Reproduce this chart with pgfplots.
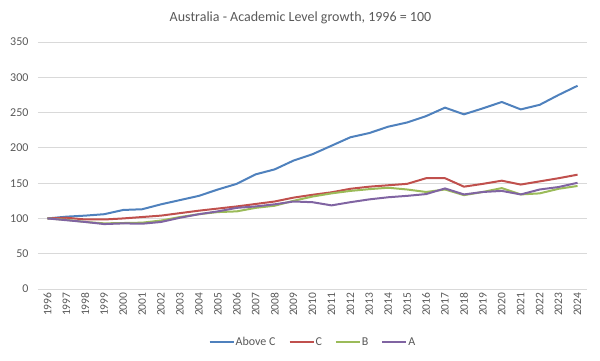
\documentclass[border=0pt]{standalone}
\usepackage{pgfplots}
\pgfplotsset{compat=1.18}
\usepackage{fontspec}
\setmainfont{Carlito}
\definecolor{cblue}{HTML}{4F81BD}
\definecolor{cred}{HTML}{C0504D}
\definecolor{cgreen}{HTML}{9BBB59}
\definecolor{cpurple}{HTML}{8064A2}
\definecolor{tickgray}{HTML}{595959}
\definecolor{gridgray}{HTML}{D9D9D9}
\begin{document}
\begin{tikzpicture}
\useasboundingbox (-38pt,-71pt) rectangle (562pt,289pt);
\begin{axis}[
  at={(0,0)}, anchor=south west,
  scale only axis, width=549pt, height=247pt,
  xmin=1995.5, xmax=2024.5, ymin=0, ymax=350,
  xtick={1996,...,2024}, ytick={0,50,...,350},
  /pgf/number format/1000 sep={},
  /pgf/number format/assume math mode=true,
  axis line style={draw=none},
  major tick length=0pt,
  ymajorgrids, grid style={gridgray, line width=0.8pt},
  xticklabel style={rotate=90, anchor=east, font=\fontsize{11.5}{13}\selectfont, text=tickgray},
  yticklabel style={font=\fontsize{12}{14}\selectfont, text=tickgray, xshift=-6pt},
  legend style={at={(0.5,-0.215)}, anchor=center, draw=none, legend columns=4,
    font=\fontsize{12}{14}\selectfont, text=tickgray,
    nodes={inner xsep=1pt},
    /tikz/every even column/.append style={column sep=12pt}},
  legend image code/.code={\draw[#1, line width=2pt] (0pt,0pt) -- (24pt,0pt);},
  every axis plot/.append style={line width=2pt, line join=round, mark=none},
  clip=false
]
\addplot[cblue] coordinates {(1996,100)(1997,102.5)(1998,104)(1999,106)(2000,112)(2001,113)(2002,120)(2003,126)(2004,132)(2005,141)(2006,149)(2007,162.5)(2008,169.5)(2009,182)(2010,191)(2011,203)(2012,215)(2013,221)(2014,230)(2015,236)(2016,245)(2017,257)(2018,247.5)(2019,256)(2020,265)(2021,254.5)(2022,261)(2023,275)(2024,288)};
\addlegendentry{Above C}
\addplot[cred] coordinates {(1996,100)(1997,101)(1998,98.5)(1999,98.5)(2000,100)(2001,102)(2002,104)(2003,107.5)(2004,111)(2005,114)(2006,117)(2007,120.5)(2008,124)(2009,129.5)(2010,133.5)(2011,137)(2012,142)(2013,145)(2014,147)(2015,149)(2016,157)(2017,157)(2018,145)(2019,149)(2020,153.5)(2021,148)(2022,152.5)(2023,157)(2024,162)};
\addlegendentry{C}
\addplot[cgreen] coordinates {(1996,100)(1997,98)(1998,95)(1999,93)(2000,93.5)(2001,94)(2002,97)(2003,102)(2004,106)(2005,109)(2006,110)(2007,115)(2008,118)(2009,125)(2010,131)(2011,135.5)(2012,139)(2013,141.5)(2014,143.5)(2015,141)(2016,137.5)(2017,141)(2018,133)(2019,137.5)(2020,143)(2021,134)(2022,135.5)(2023,142)(2024,146)};
\addlegendentry{B}
\addplot[cpurple] coordinates {(1996,100)(1997,97.5)(1998,95)(1999,92)(2000,93)(2001,92.5)(2002,95)(2003,101)(2004,106)(2005,110)(2006,115)(2007,117)(2008,120)(2009,124)(2010,123)(2011,118.5)(2012,123)(2013,127)(2014,130)(2015,132)(2016,134.5)(2017,142.5)(2018,134)(2019,137.5)(2020,139)(2021,134)(2022,141)(2023,144.5)(2024,150.5)};
\addlegendentry{A}
\node[font=\fontsize{14}{16}\selectfont, text=tickgray] at (axis description cs:0.5,1) [yshift=24pt, xshift=-12pt] {Australia - Academic Level growth, 1996 = 100};
\end{axis}
\end{tikzpicture}
\end{document}
